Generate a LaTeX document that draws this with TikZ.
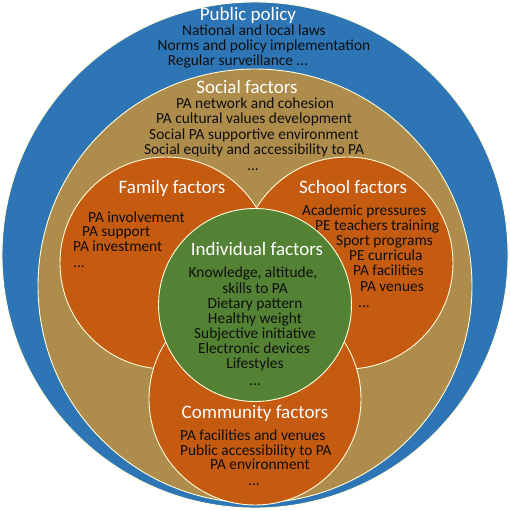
\documentclass[tikz,border=0pt]{standalone}
\usepackage{fontspec}
\setmainfont{Carlito}
\definecolor{pblue}{RGB}{46,117,182}
\definecolor{ptan}{RGB}{174,140,76}
\definecolor{porange}{RGB}{197,90,17}
\definecolor{pgreen}{RGB}{84,130,53}
\definecolor{ptext}{RGB}{15,15,15}
\begin{document}
\begin{tikzpicture}[x=1pt,y=-1pt,
  ring/.style={circle,inner sep=0pt,draw=white!85!yellow,line width=0.9pt},
  title/.style={font=\fontsize{19}{20}\selectfont,text=white,anchor=base,inner sep=0pt},
  item/.style={font=\fontsize{15.4}{16}\selectfont,text=ptext,anchor=base,inner sep=0pt},
  itemw/.style={item,anchor=base west}]
\useasboundingbox (0,0) rectangle (510,511);
\node[ring,fill=pblue,minimum size=506pt] (pub) at (255,255) {};
\node[ring,fill=ptan,minimum size=434pt] (soc) at (255,286) {};
\node[ring,fill=porange,minimum size=212pt] (fam) at (166,263) {};
\node[ring,fill=porange,minimum size=212pt] (sch) at (347,263) {};
\node[ring,fill=porange,minimum size=212pt] (com) at (255,399) {};
\node[ring,fill=pgreen,minimum size=193pt] (ind) at (255,305) {};
% Public policy
\node[title] (t1) at (248,21) {Public policy};
\node[item] (p1) at (254,36) {National and local laws};
\node[item] (p2) at (264,50.5) {Norms and policy implementation};
\node[item] (p3) at (238,65.5) {Regular surveillance ...};
% Social
\node[title] (t2) at (247,93) {Social factors};
\node[item] (s1) at (255,108) {PA network and cohesion};
\node[item] (s2) at (254,123) {PA cultural values development};
\node[item] (s3) at (254,139) {Social PA supportive environment};
\node[item] (s4) at (254,154) {Social equity and accessibility to PA};
\node[item] (s5) at (253,170) {...};
% Family
\node[title] (t3) at (172,193) {Family factors};
\node[itemw] (f1) at (88,222) {PA involvement};
\node[itemw] (f2) at (82,236) {PA support};
\node[itemw] (f3) at (73,251) {PA investment};
\node[itemw] (f4) at (73,267) {...};
% School
\node[title] (t4) at (353,193) {School factors};
\node[itemw] (c1) at (302,215) {Academic pressures};
\node[itemw] (c2) at (315,230) {PE teachers training};
\node[itemw] (c3) at (336,245) {Sport programs};
\node[itemw] (c4) at (349,260) {PE curricula};
\node[itemw] (c5) at (353,275) {PA facilities};
\node[itemw] (c6) at (360,291) {PA venues};
\node[itemw] (c7) at (358,307) {...};
% Individual
\node[title] (t5) at (257,255) {Individual factors};
\node[item] (i1) at (253,277) {Knowledge, altitude,};
\node[item] (i2) at (255,293) {skills to PA};
\node[item] (i3) at (255,308) {Dietary pattern};
\node[item] (i4) at (255,323) {Healthy weight};
\node[item] (i5) at (255,338) {Subjective initiative};
\node[item] (i6) at (254,353) {Electronic devices};
\node[item] (i7) at (255,368) {Lifestyles};
\node[item] (i8) at (255,385) {...};
% Community
\node[title] (t6) at (255,418) {Community factors};
\node[itemw] (m1) at (180,440) {PA facilities and venues};
\node[itemw] (m2) at (180,455) {Public accessibility to PA};
\node[itemw] (m3) at (210,469) {PA environment};
\node[item] (m4) at (254,485) {...};
\end{tikzpicture}
\end{document}
